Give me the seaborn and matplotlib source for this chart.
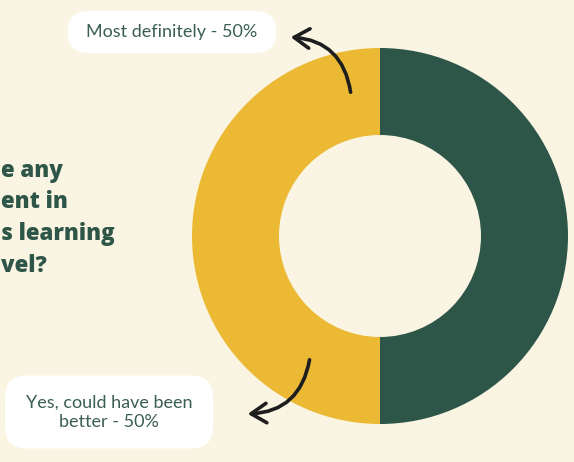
import matplotlib
matplotlib.use("Agg")
import matplotlib.pyplot as plt
import seaborn as sns
from matplotlib.patches import FancyBboxPatch, FancyArrowPatch

# Survey answers
answers = ["Most definitely", "Yes, could have been better"]
shares = [50, 50]
title_lines = ["e any", "ent in", "s learning", "vel?"]

BG = "#FAF4E2"
GREEN = "#2E5648"
YELLOW = "#ECB935"
TEXT = "#3B5E52"

sns.set_theme(style="white")
plt.rcParams["font.family"] = ["Lato", "DejaVu Sans"]

fig = plt.figure(figsize=(5.74, 4.62), dpi=100, facecolor=BG)
ax = fig.add_axes([0, 0, 1, 1])
ax.set_facecolor(BG)

# Donut, right half first, drawn clockwise from the top
ax.pie(shares, colors=[GREEN, YELLOW], startangle=90, counterclock=False,
       center=(380, 236), radius=188,
       wedgeprops=dict(width=87, linewidth=0))

ax.set_xlim(0, 574)
ax.set_ylim(462, 0)
ax.set_aspect("equal")
ax.axis("off")

# Question text at the left edge
baselines = [177, 208, 240, 272]
for line, yb in zip(title_lines, baselines):
    ax.text(1, yb, line, ha="left", va="baseline", fontsize=16,
            fontweight=800, color=GREEN, family=["Open Sans", "DejaVu Sans"])

# Callout boxes
def pill(cx, cy, w, h, r):
    ax.add_patch(FancyBboxPatch((cx - w / 2, cy - h / 2), w, h,
                                boxstyle=f"round,pad=0,rounding_size={r}",
                                facecolor="white", edgecolor="none"))

pill(172, 32, 209, 42, 21)
ax.text(172, 32, f"{answers[0]} - {shares[0]}%", ha="center", va="center",
        fontsize=13, color=TEXT)

pill(109, 412, 208, 73, 22)
ax.text(109, 412, f"Yes, could have been\nbetter - {shares[1]}%", ha="center",
        va="center", fontsize=13, color=TEXT, linespacing=1.25)

# Curved pointers
for tail, head, rad in [((351, 95), (288, 37), 0.42), ((310, 357), (245, 414), -0.42)]:
    ax.add_patch(FancyArrowPatch(tail, head, connectionstyle=f"arc3,rad={rad}",
                                 arrowstyle="->,head_length=11,head_width=7",
                                 color="#1E1E1E", lw=2.6, capstyle="round",
                                 joinstyle="round", mutation_scale=1))

fig.savefig("out.png", dpi=100, facecolor=BG)
